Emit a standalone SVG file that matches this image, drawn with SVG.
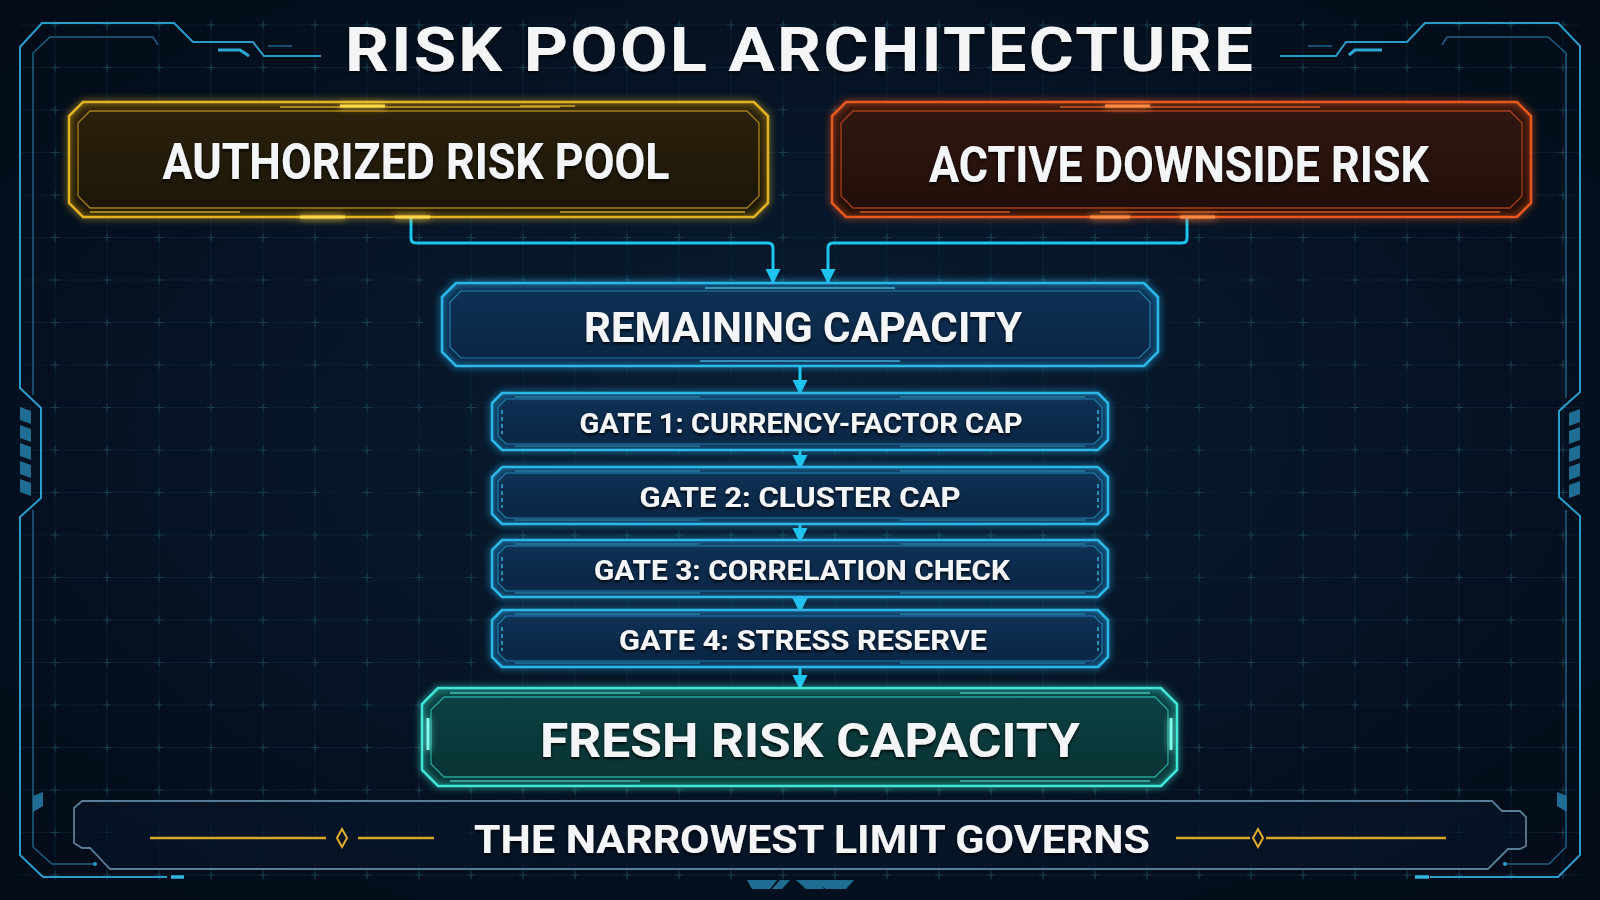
<svg xmlns="http://www.w3.org/2000/svg" xmlns:xlink="http://www.w3.org/1999/xlink" width="1600" height="900" viewBox="0 0 1600 900">
<defs>
<style>
.t{font-family:Roboto,"Liberation Sans",sans-serif;font-weight:700;fill:#f3f5f7;text-anchor:middle;filter:url(#shadow)}
.frame{fill:none;stroke:#2a9ccb;stroke-width:2}
.frameIn{fill:none;stroke:#1b5f85;stroke-width:1.5}
.hatch{fill:#1f6d92}
.conn{fill:none;stroke:#1ec6ef;stroke-width:3;marker-end:url(#ah)}
.gold{fill:none;stroke:#e3b324;stroke-width:2.5}
.goldIn{fill:none;stroke:#c99a1e;stroke-width:1.3;opacity:.8}
.red{fill:none;stroke:#e8591f;stroke-width:2.5}
.redIn{fill:none;stroke:#c84a1a;stroke-width:1.3;opacity:.8}
.blue{fill:none;stroke:#2cb8ea;stroke-width:2.5}
.blueIn{fill:none;stroke:#2493c2;stroke-width:1.2;opacity:.8}
.teal{fill:none;stroke:#3fe6d6;stroke-width:2.5}
.tealIn{fill:none;stroke:#2cc0b4;stroke-width:1.3;opacity:.8}
.fl{fill:none;stroke:#d9a82a;stroke-width:2.5}
</style>
<radialGradient id="bg" cx="50%" cy="48%" r="65%">
<stop offset="0" stop-color="#0a1e36"/>
<stop offset="1" stop-color="#030c18"/>
</radialGradient>
<pattern id="grid" x="29" y="3.75" width="52" height="42.5" patternUnits="userSpaceOnUse">
<path d="M26,0 V42.5 M0,21.25 H52" stroke="#0c2336" stroke-width="0.7" fill="none"/>
<path d="M22,21.25 H30 M26,17.25 V25.25" stroke="#16404f" stroke-width="1" fill="none"/>
</pattern>
<linearGradient id="goldFill" x1="0" y1="0" x2="0" y2="1">
<stop offset="0" stop-color="#2c220c"/><stop offset="1" stop-color="#1a1508"/>
</linearGradient>
<linearGradient id="redFill" x1="0" y1="0" x2="0" y2="1">
<stop offset="0" stop-color="#321710"/><stop offset="1" stop-color="#200e0a"/>
</linearGradient>
<linearGradient id="blueFill" x1="0" y1="0" x2="0" y2="1">
<stop offset="0" stop-color="#0f3256"/><stop offset="1" stop-color="#0a2443"/>
</linearGradient>
<linearGradient id="tealFill" x1="0" y1="0" x2="0" y2="1">
<stop offset="0" stop-color="#0c4244"/><stop offset="1" stop-color="#083233"/>
</linearGradient>
<filter id="glow" x="-10%" y="-40%" width="120%" height="180%">
<feGaussianBlur in="SourceGraphic" stdDeviation="3.5" result="b"/>
<feMerge><feMergeNode in="b"/><feMergeNode in="SourceGraphic"/></feMerge>
</filter>
<filter id="shadow" x="-5%" y="-30%" width="110%" height="160%">
<feDropShadow dx="0" dy="2" stdDeviation="1.5" flood-color="#000" flood-opacity="0.85"/>
</filter>
<marker id="ah" markerUnits="userSpaceOnUse" markerWidth="18" markerHeight="18" refX="15" refY="7.5" orient="auto">
<path d="M0,0 L15,7.5 L0,15 Z" fill="#1ec6ef"/>
</marker>
<g id="gateShape">
<polygon points="502,0 1098,0 1108,10 1108,47 1098,57 502,57 492,47 492,10" fill="url(#blueFill)"/>
<polygon class="blue" filter="url(#glow)" points="502,0 1098,0 1108,10 1108,47 1098,57 502,57 492,47 492,10"/>
<polygon class="blueIn" points="506,6 1094,6 1102,14 1102,43 1094,51 506,51 498,43 498,14"/>
<path d="M515,4 H700 M900,4 H1085 M515,53 H700 M900,53 H1085" stroke="#47c8f2" stroke-width="1.2" opacity=".6"/>
<path d="M502,17 v4 M502,24 v4 M502,31 v4 M502,38 v3 M1098,17 v4 M1098,24 v4 M1098,31 v4 M1098,38 v3" stroke="#2a8fb8" stroke-width="2"/>
</g>
</defs>

<rect width="1600" height="900" fill="url(#bg)"/>
<rect x="20" y="20" width="1560" height="860" fill="url(#grid)"/>

<g id="frame">
<path class="frame" d="M321,56 H264 L253,42 H193 L174,23 H42 L20,47 V388 L41,408 V498 L20,517 V855 L43,877 H167"/>
<path class="frame" d="M1280,56 H1336 L1346,42 H1407 L1425,23 H1558 L1580,46 V392 L1559,411 V497 L1580,516 V855 L1558,877 H1430"/>
<path class="frameIn" d="M158,45 L153,37 H50 L33,53 V395 M33,510 V847 L52,864 H97"/>
<path class="frameIn" d="M1442,45 L1447,37 H1548 L1566,53 V398 M1566,510 V847 L1549,864 H1503"/>
<path d="M218,50 H240 L249,56" fill="none" stroke="#2aa8d6" stroke-width="3"/>
<path d="M1382,50 H1355 L1349,55" fill="none" stroke="#2aa8d6" stroke-width="3"/>
<path d="M268,46 H292 M1308,46 H1332" stroke="#1c6688" stroke-width="1.5"/>
<path d="M171,877 H184 M1415,877 H1429" stroke="#33b4e0" stroke-width="3.5"/>
<circle cx="95" cy="864" r="2" fill="#2a9ccb"/>
<circle cx="1505" cy="864" r="2" fill="#2a9ccb"/>
<polygon class="hatch" points="33,796 43,792 43,806 33,812"/>
<polygon class="hatch" points="1567,796 1557,792 1557,806 1567,812"/>
<polygon class="hatch" points="20,407 31,411 31,424 20,420"/>
<polygon class="hatch" points="20,425 31,429 31,442 20,438"/>
<polygon class="hatch" points="20,443 31,447 31,460 20,456"/>
<polygon class="hatch" points="20,461 31,465 31,478 20,474"/>
<polygon class="hatch" points="20,479 31,483 31,496 20,492"/>
<polygon class="hatch" points="1580,409 1569,413 1569,426 1580,422"/>
<polygon class="hatch" points="1580,427 1569,431 1569,444 1580,440"/>
<polygon class="hatch" points="1580,445 1569,449 1569,462 1580,458"/>
<polygon class="hatch" points="1580,463 1569,467 1569,480 1580,476"/>
<polygon class="hatch" points="1580,481 1569,485 1569,498 1580,494"/>
<polygon class="hatch" points="747,880 777,880 770,889 752,889"/>
<polygon class="hatch" points="780,880 790,880 782,889 772,889"/>
<polygon class="hatch" points="796,880 818,880 824,889 806,889"/>
<polygon class="hatch" points="812,880 854,880 846,889 826,889"/>
</g>

<g id="title">
<text class="t" x="800" y="71" font-size="62" letter-spacing="2" textLength="910" lengthAdjust="spacingAndGlyphs">RISK POOL ARCHITECTURE</text>
</g>

<g id="connectors">
<path class="conn" d="M411,217 V238 Q411,243 416,243 H768 Q773,243 773,248 V284"/>
<path class="conn" d="M1187,217 V238 Q1187,243 1182,243 H833 Q828,243 828,248 V284"/>
<path class="conn" d="M800,366 V395"/>
<path class="conn" d="M800,450 V470"/>
<path class="conn" d="M800,524 V543"/>
<path class="conn" d="M800,597 V613"/>
<path class="conn" d="M800,667 V690"/>
</g>

<g id="authorized">
<polygon points="83,102 754,102 768,116 768,203 754,217 83,217 69,203 69,116" fill="url(#goldFill)"/>
<polygon class="gold" filter="url(#glow)" points="83,102 754,102 768,116 768,203 754,217 83,217 69,203 69,116"/>
<polygon class="goldIn" points="90,111 747,111 759,123 759,196 747,208 90,208 78,196 78,123"/>
<path d="M280,107 H560 M520,106 H575 M90,212 H240 M560,212 H745" stroke="#f0c030" stroke-width="1.5" opacity=".8"/>
<path d="M300,217 H345 M395,217 H430 M340,106 H385" stroke="#ffd84a" stroke-width="3" filter="url(#glow)"/>
<text class="t" x="416" y="179" font-size="50" textLength="507" lengthAdjust="spacingAndGlyphs">AUTHORIZED RISK POOL</text>
</g>

<g id="active">
<polygon points="846,102 1517,102 1531,116 1531,203 1517,217 846,217 832,203 832,116" fill="url(#redFill)"/>
<polygon class="red" filter="url(#glow)" points="846,102 1517,102 1531,116 1531,203 1517,217 846,217 832,203 832,116"/>
<polygon class="redIn" points="853,111 1510,111 1522,123 1522,196 1510,208 853,208 841,196 841,123"/>
<path d="M1060,107 H1320 M860,212 H1010 M1100,212 H1500" stroke="#f06a2a" stroke-width="1.5" opacity=".8"/>
<path d="M1105,106 H1150 M1090,217 H1130 M1180,217 H1215" stroke="#ff8a40" stroke-width="3" filter="url(#glow)"/>
<text class="t" x="1179" y="182" font-size="50" textLength="500" lengthAdjust="spacingAndGlyphs">ACTIVE DOWNSIDE RISK</text>
</g>

<g id="remaining">
<polygon points="456,283 1144,283 1158,297 1158,352 1144,366 456,366 442,352 442,297" fill="url(#blueFill)"/>
<polygon class="blue" filter="url(#glow)" points="456,283 1144,283 1158,297 1158,352 1144,366 456,366 442,352 442,297"/>
<polygon class="blueIn" points="461,291 1139,291 1150,302 1150,347 1139,358 461,358 450,347 450,302"/>
<path d="M705,288 H895 M700,361 H900" stroke="#4fd0f5" stroke-width="1.5" opacity=".8"/>
<path d="M700,366 H735 M855,366 H890" stroke="#5ad6ff" stroke-width="3" filter="url(#glow)"/>
<text class="t" x="803" y="342" font-size="43" textLength="438" lengthAdjust="spacingAndGlyphs">REMAINING CAPACITY</text>
</g>

<g id="gate1">
<use xlink:href="#gateShape" y="393"/>
<text class="t" x="801" y="433" font-size="28" textLength="443" lengthAdjust="spacingAndGlyphs">GATE 1: CURRENCY-FACTOR CAP</text>
</g>
<g id="gate2">
<use xlink:href="#gateShape" y="467"/>
<text class="t" x="800" y="507" font-size="28" textLength="321" lengthAdjust="spacingAndGlyphs">GATE 2: CLUSTER CAP</text>
</g>
<g id="gate3">
<use xlink:href="#gateShape" y="540"/>
<text class="t" x="802" y="580" font-size="28" textLength="416" lengthAdjust="spacingAndGlyphs">GATE 3: CORRELATION CHECK</text>
</g>
<g id="gate4">
<use xlink:href="#gateShape" y="610"/>
<text class="t" x="803" y="650" font-size="28" textLength="368" lengthAdjust="spacingAndGlyphs">GATE 4: STRESS RESERVE</text>
</g>

<g id="fresh">
<polygon points="438,688 1161,688 1177,704 1177,770 1161,786 438,786 422,770 422,704" fill="url(#tealFill)"/>
<polygon class="teal" filter="url(#glow)" points="438,688 1161,688 1177,704 1177,770 1161,786 438,786 422,770 422,704"/>
<polygon class="tealIn" points="444,697 1155,697 1168,710 1168,764 1155,777 444,777 431,764 431,710"/>
<path d="M450,693 H640 M960,693 H1150 M450,781 H640 M960,781 H1150" stroke="#55f0e0" stroke-width="1.3" opacity=".7"/>
<path d="M428,718 V750 M1171,718 V750" stroke="#7ffff0" stroke-width="3" filter="url(#glow)"/>
<text class="t" x="810" y="757" font-size="48" textLength="540" lengthAdjust="spacingAndGlyphs">FRESH RISK CAPACITY</text>
</g>

<g id="footer">
<path d="M82,801 H1492 L1502,811 H1520 L1526,817 V846 L1520,849 H1508 L1488,869 H110 L90,848 H82 L74,843 V808 Z" fill="#061629" fill-opacity=".7" stroke="#5a7c95" stroke-width="1.8"/>
<path class="fl" d="M150,838 H326 M358,838 H434 M1176,838 H1250 M1266,838 H1446"/>
<polygon points="342,829 347,838 342,847 337,838" fill="none" stroke="#e0ae2c" stroke-width="2"/>
<polygon points="1258,829 1263,838 1258,847 1253,838" fill="none" stroke="#e0ae2c" stroke-width="2"/>
<text class="t" x="812" y="853" font-size="39" textLength="676" lengthAdjust="spacingAndGlyphs">THE NARROWEST LIMIT GOVERNS</text>
</g>
</svg>
